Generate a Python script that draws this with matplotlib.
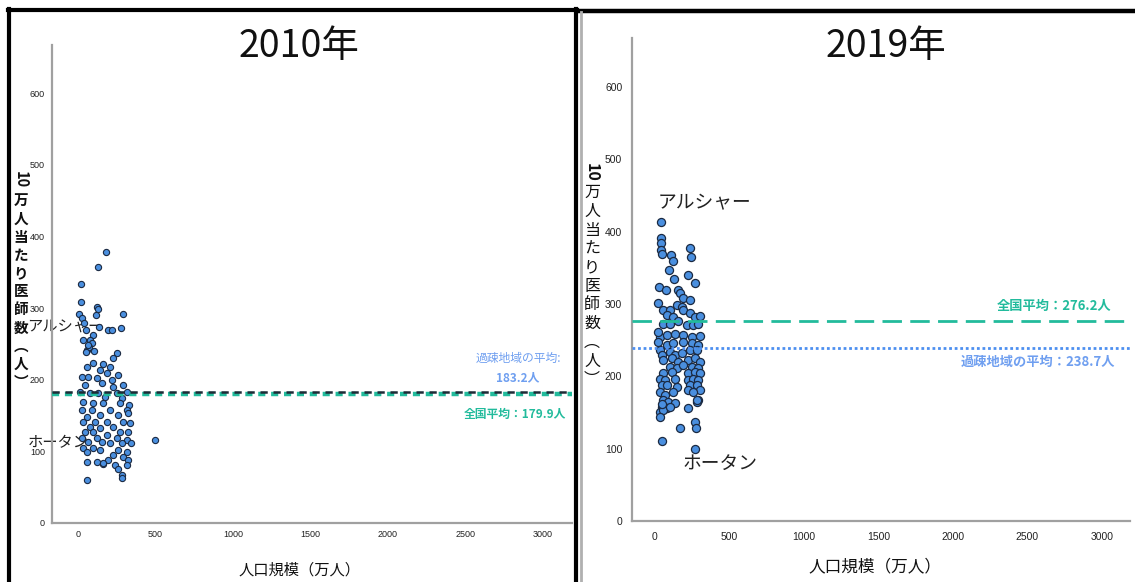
import matplotlib
matplotlib.use("Agg")
import matplotlib.pyplot as plt
from matplotlib.lines import Line2D

plt.rcParams['font.family'] = ['Noto Sans CJK JP', 'DejaVu Sans']

# ---------------- data ----------------
titles = ["2010年", "2019年"]
xlabel = "人口規模（万人）"
ylabel_chars = list("万人当たり医師数") + ["︵", "人", "︶"]
xticks = [0, 500, 1000, 1500, 2000, 2500, 3000]
yticks = [0, 100, 200, 300, 400, 500, 600]

national_avg = [179.9, 276.2]
depop_avg = [183.2, 238.7]

x2010 = [181, 130, 20, 20, 122, 130, 115, 290, 8, 26, 39, 136, 52, 195, 219, 277,
         97, 34, 78, 88, 56, 73, 65, 52, 103, 252, 226,
         99, 164, 207, 56, 142, 185, 260, 24, 67, 120, 217, 293, 45, 153, 228, 314,
         13, 78, 131, 250, 174, 282, 35, 99, 164, 271, 330, 24, 88, 207, 314, 56,
         142, 260, 320, 35, 110, 185, 293, 336, 78, 228, 142, 45, 99, 271, 325, 185,
         24, 120, 250, 314, 67, 153, 207, 282, 340, 35, 99, 142, 260, 314, 497, 56,
         228, 293, 325, 120, 164, 56, 239, 260, 282, 56, 314, 196, 284, 161]
y2010 = [378, 357, 333, 308, 301, 298, 290, 292, 291, 286, 279, 273, 269, 269, 269, 272,
         262, 256, 255, 251, 242, 246, 248, 238, 240, 237, 230,
         223, 222, 218, 218, 213, 209, 206, 204, 204, 202, 199, 192, 192, 195, 190, 183,
         183, 181, 181, 181, 176, 174, 169, 167, 167, 167, 165, 158, 158, 158, 158, 148,
         151, 151, 153, 141, 141, 141, 141, 139, 134, 134, 132, 127, 127, 127, 127, 123,
         118, 118, 118, 116, 113, 113, 111, 111, 111, 104, 104, 102, 102, 99, 116, 99,
         95, 92, 88, 85, 83, 85, 81, 76, 67, 60, 81, 88, 63, 84]

x2019 = [38, 38, 38, 38, 49, 105, 118, 94, 235, 241, 223, 268, 130, 24, 71, 152, 168,
         190, 235, 22, 56, 100, 145, 179, 190, 78, 123, 235, 268, 302, 56, 100, 156,
         212, 257, 290, 33, 78, 134, 190, 246, 302,
         78, 123, 190, 246, 291, 33, 44, 100, 134, 179, 235, 279,
         56, 112, 156, 223, 268, 302, 100, 145, 190, 246, 291,
         56, 112, 223, 268, 302, 33, 67, 134, 223, 257, 291,
         44, 78, 145, 235, 279, 302, 33, 67, 123, 223, 257,
         56, 89, 134, 291, 44, 78, 223, 279, 33, 56, 100,
         33, 168, 268, 273, 45, 268, 20, 20, 280, 45]
y2019 = [414, 391, 385, 375, 369, 368, 359, 347, 378, 365, 340, 329, 335, 323, 320, 320, 315,
         308, 305, 301, 292, 292, 299, 296, 292, 285, 282, 287, 282, 283, 273, 273, 276,
         271, 271, 273, 255, 257, 259, 257, 255, 256,
         243, 246, 248, 246, 243, 236, 229, 234, 229, 232, 236, 236,
         222, 225, 220, 222, 225, 220, 213, 211, 216, 213, 211,
         204, 206, 204, 206, 204, 197, 195, 197, 195, 197, 195,
         188, 188, 186, 188, 188, 181, 179, 174, 179, 181, 179,
         167, 165, 163, 167, 158, 156, 156, 165, 151, 153, 158,
         144, 128, 137, 128, 110, 100, 248, 262, 167, 162]

# ---------------- styles ----------------
teal = "#22bb9c"
lightblue = "#6f9ff0"
blue_line = "#4d8ff0"
pt_fill = "#4a8fdf"
pt_edge = "#1b2a42"
spine_col = "#a0a0a0"

W, H = 1135, 582
fig = plt.figure(figsize=(W / 100, H / 100), dpi=100)

def fx(px):
    return px / W

def fy(py):
    return 1 - py / H

axL = fig.add_axes([fx(52), fy(523), fx(572) - fx(52), fy(45) - fy(523)])
axR = fig.add_axes([fx(632), fy(521), fx(1130) - fx(632), fy(38) - fy(521)])

def style_axes(ax, xlim, ylim, tfs, xpad, ypad):
    ax.set_xlim(*xlim)
    ax.set_ylim(*ylim)
    for s in ["top", "right"]:
        ax.spines[s].set_visible(False)
    for s in ["left", "bottom"]:
        ax.spines[s].set_color(spine_col)
        ax.spines[s].set_linewidth(1.6)
    ax.set_xticks(xticks)
    ax.set_yticks(yticks)
    ax.tick_params(axis="both", length=0, labelsize=tfs, colors="#222222")
    ax.tick_params(axis="x", pad=xpad)
    ax.tick_params(axis="y", pad=ypad)
    for lab in ax.get_xticklabels() + ax.get_yticklabels():
        lab.set_family("Liberation Sans")

style_axes(axL, (-168, 3187), (0, 667), 6.5, 5, 5)
style_axes(axR, (-154, 3188), (0, 668), 7.5, 8, 7)

# ---------- left panel (2010) ----------
axL.scatter(x2010, y2010, s=20, c=pt_fill, edgecolors=pt_edge, linewidths=0.8, zorder=3)
axL.axhline(national_avg[0], color=teal, lw=3.2, dashes=(1.6, 1.3), zorder=4)
axL.axhline(depop_avg[0], color="#1f2a36", lw=1.8, dashes=(2.9, 2.3), zorder=5)
axL.text(2839, 230, "過疎地域の平均:", color=lightblue, fontsize=8.5, ha="center", va="center")
axL.text(2839, 203, f"{depop_avg[0]}人", color=lightblue, fontsize=8.5, ha="center", va="center",
         fontweight="bold")
axL.text(3150, 152, f"全国平均：{national_avg[0]}人", color=teal, fontsize=8.5, ha="right",
         va="center", fontweight="bold")
axL.text(-330, 273, "アルシャー", fontsize=11, color="#222222", ha="left", va="center",
         clip_on=False, zorder=2)
axL.text(-325, 112, "ホータン", fontsize=11, color="#222222", ha="left", va="center",
         clip_on=False, zorder=2)

# ---------- right panel (2019) ----------
axR.scatter(x2019, y2019, s=34, c=pt_fill, edgecolors=pt_edge, linewidths=0.9, zorder=3)
axR.axhline(national_avg[1], color=teal, lw=2.0, dashes=(7, 3), zorder=4)
axR.axhline(depop_avg[1], color=blue_line, lw=2.0, dashes=(1, 1), zorder=4)
axR.text(3060, 297, f"全国平均：{national_avg[1]}人", color=teal, fontsize=9.5, ha="right",
         va="center", fontweight="bold")
axR.text(3090, 220, f"過疎地域の平均：{depop_avg[1]}人", color=lightblue, fontsize=9.5,
         ha="right", va="center", fontweight="bold")
axR.text(20, 440, "アルシャー", fontsize=13.5, color="#222222", ha="left", va="center")
axR.text(188, 79, "ホータン", fontsize=13.5, color="#222222", ha="left", va="center")

# ---------- titles and x labels ----------
fig.text(fx(299), fy(46), titles[0], fontsize=27, ha="center", va="center", color="#111111")
fig.text(fx(886), fy(47), titles[1], fontsize=27, ha="center", va="center", color="#111111")
fig.text(fx(300), fy(570), xlabel, fontsize=11, ha="center", va="center", color="#111111")
fig.text(fx(875), fy(567), xlabel, fontsize=12, ha="center", va="center", color="#111111")

# ---------- vertical y-axis labels (tategaki) ----------
def vertical_label(xc, ytop, step, fs, weight):
    fig.text(fx(xc), fy(ytop), "10", rotation=-90, fontsize=fs, fontweight="bold",
             ha="center", va="center", color="#111111")
    for i, ch in enumerate(ylabel_chars):
        fig.text(fx(xc), fy(ytop + step * (i + 1) + 2), ch, fontsize=fs, fontweight=weight,
                 ha="center", va="center", color="#111111")

vertical_label(21, 180, 18.2, 10.5, "bold")
vertical_label(592, 172, 18.7, 11.5, "normal")

# ---------- panel frames ----------
fig.add_artist(Line2D([fx(9), fx(9)], [fy(9), 0], color="black", lw=3))
fig.add_artist(Line2D([fx(8), fx(577)], [fy(10), fy(10)], color="black", lw=3))
fig.add_artist(Line2D([fx(576), fx(576)], [fy(9), 0], color="black", lw=3))
fig.add_artist(Line2D([fx(577), fx(1135)], [fy(11), fy(11)], color="black", lw=3.2))
fig.add_artist(Line2D([fx(581), fx(581)], [fy(12), 0], color="#b0b0b0", lw=2))

fig.savefig("out.png", dpi=100)
